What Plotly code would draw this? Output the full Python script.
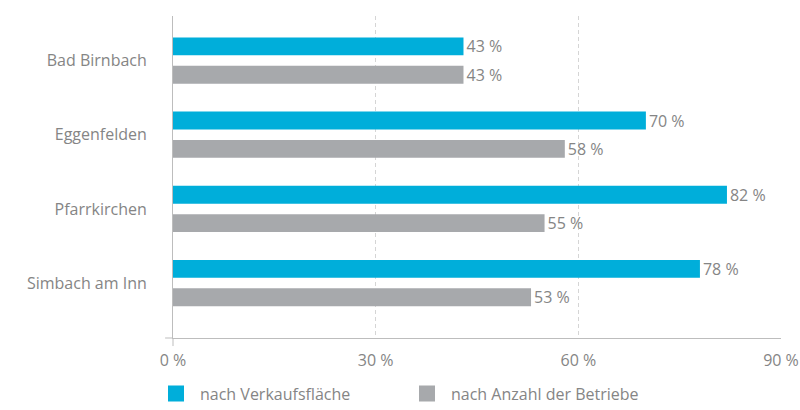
import plotly.graph_objects as go

categories = ["Bad Birnbach", "Eggenfelden", "Pfarrkirchen", "Simbach am Inn"]
verkaufsflaeche = [43, 70, 82, 78]
betriebe = [43, 58, 55, 53]
series_names = ["nach Verkaufsfläche", "nach Anzahl der Betriebe"]
tick_values = [0, 30, 60, 90]
tick_labels = ["0 %", "30 %", "60 %", "90 %"]

BLUE = "#00AEDA"
GRAY = "#A7A9AC"
TXT = "#858585"
FONT = "Open Sans"

fig = go.Figure()
for vals, name, col in [(verkaufsflaeche, series_names[0], BLUE), (betriebe, series_names[1], GRAY)]:
    fig.add_trace(go.Bar(
        y=categories, x=vals, orientation="h", name=name, showlegend=False,
        marker=dict(color=col, line=dict(width=0)),
        text=[f"{v} %" for v in vals], textposition="outside", constraintext="none",
        textfont=dict(color=TXT, size=16, family=FONT), cliponaxis=False,
    ))
# legend entries as square markers
for name, col in [(series_names[0], BLUE), (series_names[1], GRAY)]:
    fig.add_trace(go.Scatter(
        x=[None], y=[None], mode="markers", name=name,
        marker=dict(symbol="square", size=16, color=col),
    ))

fig.update_layout(
    width=800, height=410,
    margin=dict(l=173, r=19, t=16, b=72, autoexpand=False),
    paper_bgcolor="white", plot_bgcolor="white",
    barmode="group", bargap=0.235, bargroupgap=0.37,
    font=dict(family=FONT, color=TXT, size=16),
    showlegend=True,
    legend=dict(orientation="h", xref="container", yref="container",
                x=0.19, xanchor="left", y=0.04, yanchor="middle",
                font=dict(size=16, color=TXT, family=FONT), itemwidth=38,
                traceorder="normal", entrywidth=198, entrywidthmode="pixels"),
)
fig.update_xaxes(
    range=[0, 90], tickvals=tick_values, ticktext=tick_labels,
    showgrid=True, gridcolor="#D5D5D5", griddash="4px,3px", gridwidth=1,
    showline=True, linecolor="#BDBDBD", linewidth=1,
    zeroline=False, ticks="", tickfont=dict(size=16, color=TXT),
    ticklabelstandoff=8,
)
fig.update_yaxes(
    categoryorder="array", categoryarray=categories,
    range=[3.74, -0.6], showgrid=False, zeroline=False,
    showline=True, linecolor="#BDBDBD", linewidth=1,
    ticks="", ticklabelstandoff=22, tickfont=dict(size=16, color=TXT),
)
# small cross extensions of axes at origin
fig.add_shape(type="line", xref="paper", yref="paper", x0=0, x1=0, y0=0, y1=-0.025,
              line=dict(color="#BDBDBD", width=1))
fig.add_shape(type="line", xref="paper", yref="paper", x0=-0.013, x1=0, y0=0, y1=0,
              line=dict(color="#BDBDBD", width=1))

fig.write_html("out.html")
